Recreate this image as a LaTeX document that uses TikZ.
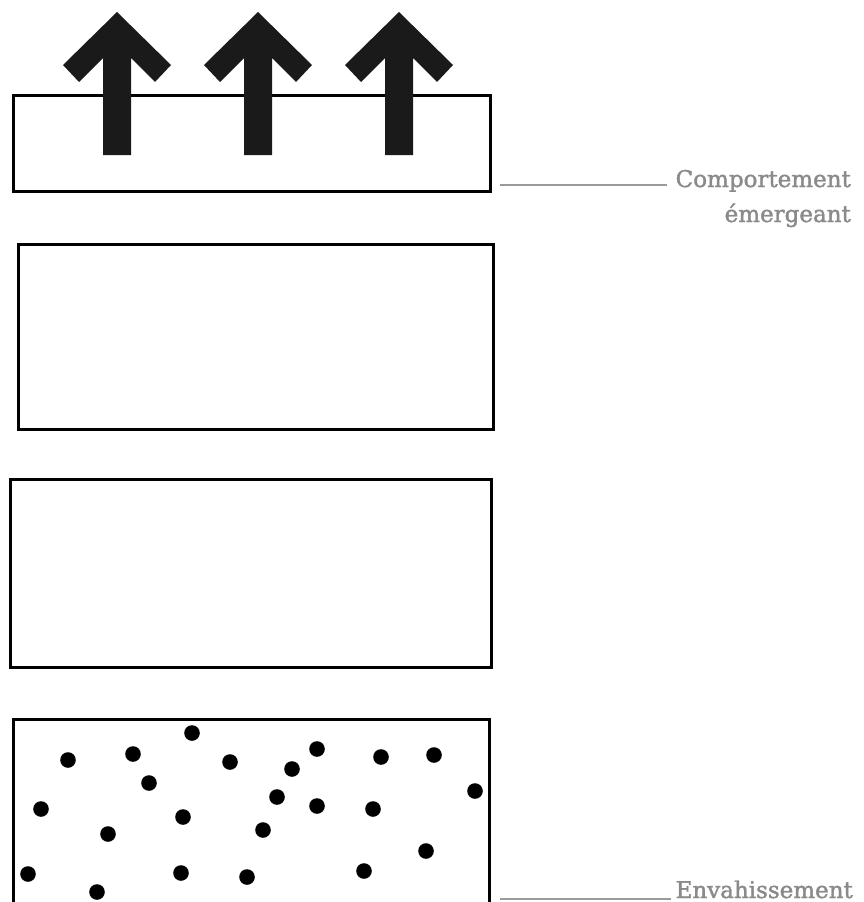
\documentclass[tikz,border=0pt]{standalone}
\usepackage{fontspec}
\setmainfont{DejaVu Serif}
\newfontfamily\lblfont{DejaVu Serif}[FakeBold=1.6]
\definecolor{ink}{HTML}{1A1A1A}
\definecolor{labelgray}{HTML}{8A8A8A}
\definecolor{leadergray}{HTML}{9A9A9A}
\tikzset{
  layer/.style={draw=black, line width=3pt, fill=none, inner sep=0pt, outer sep=0pt, anchor=north west},
  lbl/.style={text=labelgray, font=\lblfont\fontsize{23}{35}\selectfont, inner sep=0pt, align=right},
  leader/.style={draw=leadergray, line width=2pt},
  upArrow/.style={fill=ink, draw=none},
  dot/.style={fill=black}
}
\begin{document}
\begin{tikzpicture}[x=1pt, y=-1pt]
\useasboundingbox (0,0) rectangle (864,902);
% layers
\node[layer, minimum width=477pt, minimum height=96pt] (l1) at (13,95) {};
\node[layer, minimum width=475pt, minimum height=185pt] (l2) at (18,244) {};
\node[layer, minimum width=481pt, minimum height=188pt] (l3) at (10,479) {};
\node[layer, minimum width=476pt, minimum height=184pt] (l4) at (13,719) {};
% arrows
\foreach \cx in {117,258,399}{
  \fill[upArrow] (\cx,12) -- (\cx-54,65) -- (\cx-38,82) -- (\cx-14,58) -- (\cx-14,155)
     -- (\cx+14,155) -- (\cx+14,58) -- (\cx+38,82) -- (\cx+54,65) -- cycle;
}
% particles
\foreach \px/\py in {192/733,68/760,133/754,230/762,317/749,381/757,434/755,292/769,149/783,475/791,277/797,317/806,373/809,41/809,183/817,108/834,263/830,426/851,28/874,181/873,247/877,364/871,97/892}{
  \fill[dot] (\px,\py) circle (7.8pt);
}
% labels
\node[lbl, anchor=base east] (lab1) at (851,222) {Comportement\\émergeant};
\coordinate (c1) at (500,185);
\draw[leader] (c1) -- ([xshift=-8pt]lab1.west |- c1);
\node[lbl, anchor=base east] (lab2) at (853,898) {Envahissement};
\coordinate (c2) at (500,899);
\draw[leader] (c2) -- ([xshift=-4pt]lab2.west |- c2);
\end{tikzpicture}
\end{document}
